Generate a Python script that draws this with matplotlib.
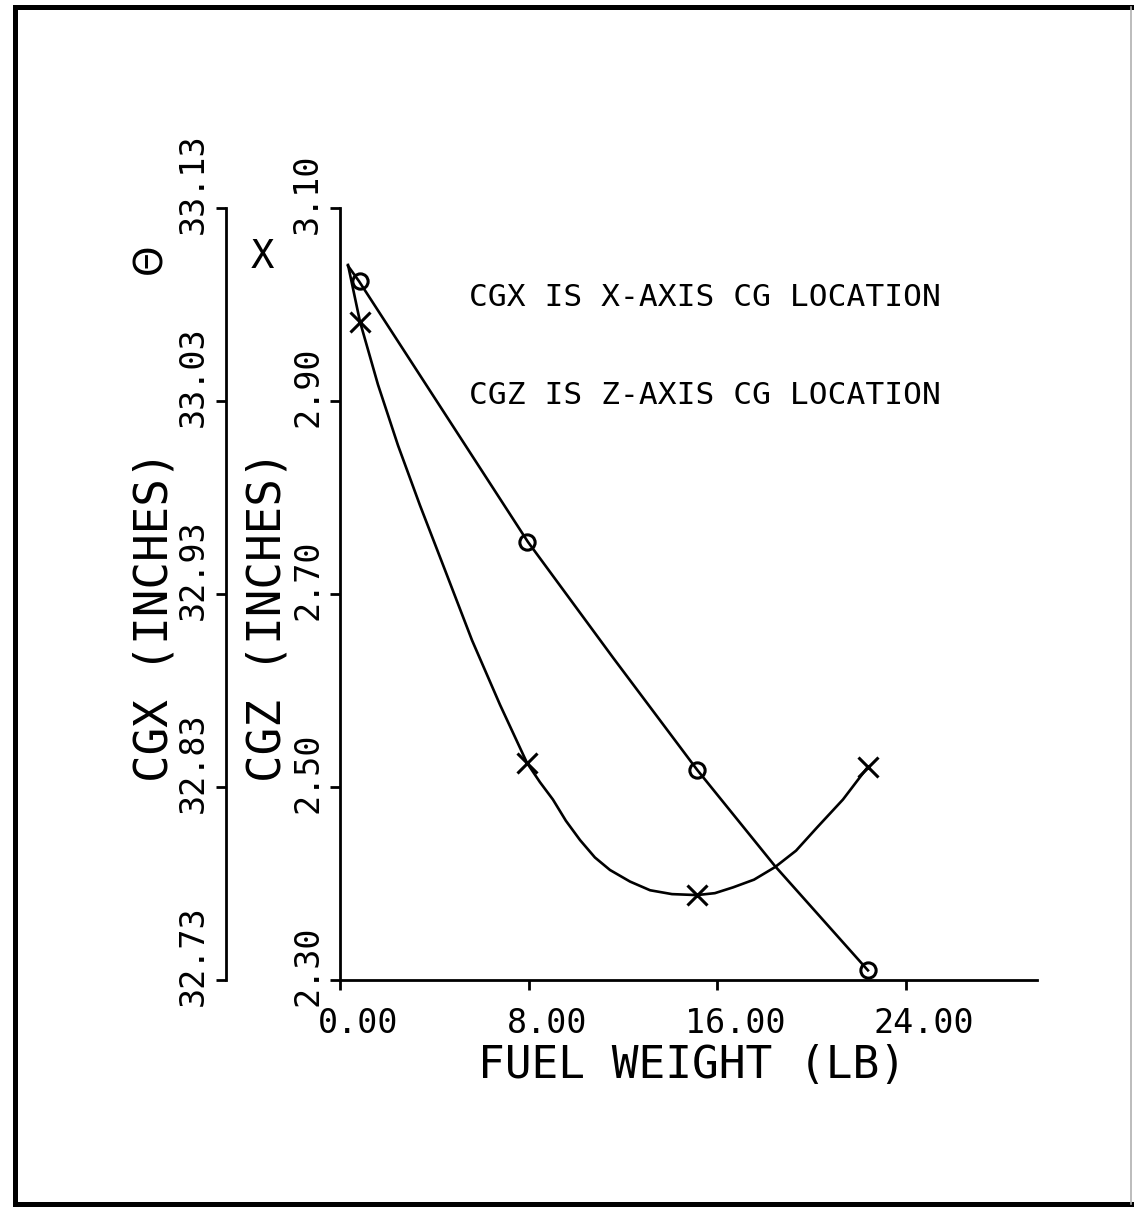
import numpy as np
import matplotlib.pyplot as plt
from matplotlib import transforms
from matplotlib.lines import Line2D

plt.rcParams['font.family'] = ['DejaVu Sans Mono', 'DejaVu Sans']

# fuel weight (lb) at the plotted symbols
fuel_pts = [0.83, 7.95, 15.14, 22.39]
cgx_pts = [33.092, 32.957, 32.839, 32.735]
cgz_pts = [2.982, 2.525, 2.388, 2.521]

# faired curves
cgx_curve_fuel = [0.34, 0.81, 7.97, 11.58, 15.14, 18.45, 22.39]
cgx_curve_val = [33.100, 33.092, 32.957, 32.897, 32.839, 32.789, 32.735]
cgz_curve_fuel = [0.34, 0.85, 1.61, 2.46, 3.39, 4.45, 5.60, 6.79, 7.93, 8.48,
                  9.03, 9.58, 10.18, 10.81, 11.45, 12.30, 13.15, 14.08, 15.14,
                  15.90, 16.67, 17.56, 18.45, 19.34, 20.23, 21.33, 22.39]
cgz_curve_val = [3.041, 2.982, 2.917, 2.854, 2.792, 2.725, 2.652, 2.585, 2.525, 2.505,
                 2.487, 2.465, 2.445, 2.427, 2.414, 2.402, 2.393, 2.389, 2.388,
                 2.390, 2.396, 2.404, 2.417, 2.434, 2.458, 2.487, 2.521]

xticks = [0, 8, 16, 24]
xtick_labels = ['0.00', '8.00', '16.00', '24.00']
cgz_ticks = [2.30, 2.50, 2.70, 2.90, 3.10]
cgz_labels = ['2.30', '2.50', '2.70', '2.90', '3.10']
cgx_ticks = [32.73, 32.83, 32.93, 33.03, 33.13]
cgx_labels = ['32.73', '32.83', '32.93', '33.03', '33.13']

W, H = 1134, 1215
fig = plt.figure(figsize=(W / 100, H / 100), dpi=100)
fig.patch.set_facecolor('white')

# axes box in pixels: left 340, right 1037, bottom 980, top 208
ax = fig.add_axes([340 / W, 1 - 980 / H, 697 / W, 772 / H])
ax.set_xlim(0, 29.56)
ax.set_ylim(2.30, 3.10)
for s in ['top', 'right']:
    ax.spines[s].set_visible(False)
for s in ['left', 'bottom']:
    ax.spines[s].set_linewidth(2.0)

ax2 = ax.twinx()
ax2.set_ylim(32.73, 33.13)
for s in ['top', 'right', 'bottom']:
    ax2.spines[s].set_visible(False)
ax2.spines['left'].set_visible(True)
ax2.spines['left'].set_position(('axes', (226 - 340) / 697))
ax2.spines['left'].set_linewidth(2.0)
ax2.yaxis.set_ticks_position('left')
ax2.patch.set_visible(False)

ax.set_xticks(xticks)
ax.set_yticks(cgz_ticks)
ax2.set_yticks(cgx_ticks)
ax.tick_params(axis='both', direction='out', length=7, width=2.0,
               labelbottom=False, labelleft=False)
ax2.tick_params(axis='y', direction='out', length=7, width=2.0,
                labelleft=False, labelright=False)

# curves and symbols
ax2.plot(cgx_curve_fuel, cgx_curve_val, color='black', lw=1.9)
ax2.plot(fuel_pts, cgx_pts, 'o', ms=11, mfc='none', mec='black', mew=2.2)
ax.plot(cgz_curve_fuel, cgz_curve_val, color='black', lw=1.9)
ax.plot(fuel_pts, cgz_pts, 'x', ms=14, mec='black', mew=2.2)

fs_tick = 24
px = fig.dpi_scale_trans
# x tick labels
xtr = transforms.blended_transform_factory(ax.transData, ax.transAxes) + \
    transforms.ScaledTranslation(0.18, -0.27, px)
for v, lab in zip(xticks, xtick_labels):
    ax.text(v, 0, lab, transform=xtr, ha='center', va='top', fontsize=fs_tick)

# CGZ tick labels (rotated)
ytr = transforms.blended_transform_factory(ax.transAxes, ax.transData) + \
    transforms.ScaledTranslation(-0.16, -0.26, px)
for v, lab in zip(cgz_ticks, cgz_labels):
    ax.text(0, v, lab, transform=ytr, rotation=90, ha='right', va='bottom',
            fontsize=fs_tick)

# CGX tick labels (rotated)
ytr2 = transforms.blended_transform_factory(ax2.transAxes, ax2.transData) + \
    transforms.ScaledTranslation((226 - 340) / 100 - 0.16, -0.26, px)
for v, lab in zip(cgx_ticks, cgx_labels):
    ax2.text(0, v, lab, transform=ytr2, rotation=90, ha='right', va='bottom',
             fontsize=fs_tick)

# axis titles
ax.set_xlabel('FUEL WEIGHT (LB)', fontsize=32)
ax.xaxis.set_label_coords(0.505, -(1044 - 980) / 772)
ax.xaxis.label.set_va('top')

ax.set_ylabel('CGZ (INCHES)', fontsize=33)
ax.yaxis.set_label_coords((268 - 340) / 697, (980 - 616) / 772)
ax.yaxis.label.set_va('center')
ax2.set_ylabel('CGX (INCHES)', fontsize=33)
ax2.yaxis.set_label_position('left')
ax2.yaxis.set_label_coords((155 - 340) / 697, (980 - 616) / 772)
ax2.yaxis.label.set_va('center')

# symbol keys next to each scale
ax.text((150 - 340) / 697, (980 - 259) / 772, '\u0398', transform=ax.transAxes,
        ha='center', va='center', fontsize=28, family='DejaVu Sans', rotation=90)
ax.text((262 - 340) / 697, (980 - 257) / 772, 'X', transform=ax.transAxes,
        ha='center', va='center', fontsize=28)

# notes
ax.text((469 - 340) / 697, (980 - 298) / 772, 'CGX IS X-AXIS CG LOCATION',
        transform=ax.transAxes, ha='left', va='center', fontsize=22.5)
ax.text((469 - 340) / 697, (980 - 396) / 772, 'CGZ IS Z-AXIS CG LOCATION',
        transform=ax.transAxes, ha='left', va='center', fontsize=22.5)

# page frame
ft = fig.transFigure
L, R, T, B = 15 / W, 1131 / W, 1 - 7 / H, 1 - 1204 / H
fig.add_artist(Line2D([L, L], [B, T], transform=ft, color='black', lw=3.6))
fig.add_artist(Line2D([L, R], [T, T], transform=ft, color='black', lw=3.6))
fig.add_artist(Line2D([L, R], [B, B], transform=ft, color='black', lw=3.6))
fig.add_artist(Line2D([R, R], [B, T], transform=ft, color='#b0b0b0', lw=1.2))

fig.savefig('out.png', dpi=100, facecolor='white')
